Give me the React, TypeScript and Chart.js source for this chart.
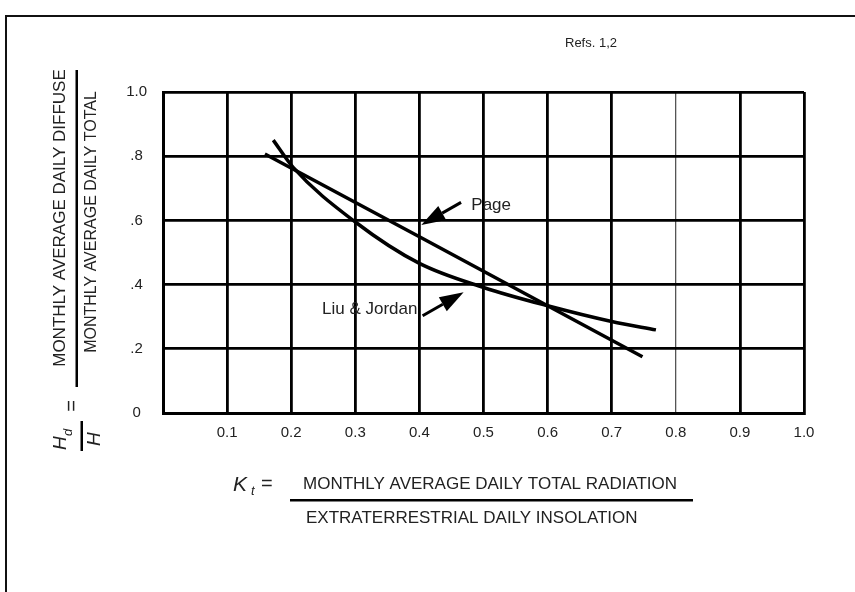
import React, { useEffect, useRef } from 'react';
import { Chart, registerables } from 'chart.js';

Chart.register(...registerables);

// ---- data ----
const xTickLabels = ['', '0.1', '0.2', '0.3', '0.4', '0.5', '0.6', '0.7', '0.8', '0.9', '1.0'];
const yTickLabels = ['0', '.2', '.4', '.6', '.8', '1.0'];
const seriesNames = ['Page', 'Liu & Jordan'];
const pageKt = [0.159, 0.4, 0.6, 0.748];
const pageRatio = [0.807, 0.549, 0.334, 0.175];
const liuKt = [0.172, 0.203, 0.3, 0.4, 0.5, 0.6, 0.7, 0.769];
const liuRatio = [0.85, 0.765, 0.595, 0.466, 0.391, 0.334, 0.285, 0.259];
// annotation arrows, data units: [tailX, tailY, tipX, tipY]
const pageArrow = [0.465, 0.656, 0.403, 0.586];
const liuArrow = [0.405, 0.303, 0.469, 0.376];
// label anchors, data units
const pageLabelAt = [0.481, 0.648];
const liuLabelAt = [0.397, 0.324];

const FONT = '"Liberation Sans", Arial, Helvetica, sans-serif';
const INK = '#222';

function drawArrow(ctx: CanvasRenderingContext2D, x1: number, y1: number, x2: number, y2: number) {
  const ang = Math.atan2(y2 - y1, x2 - x1);
  const headLen = 24;
  const halfW = 8;
  const bx = x2 - headLen * Math.cos(ang);
  const by = y2 - headLen * Math.sin(ang);
  ctx.beginPath();
  ctx.moveTo(x1, y1);
  ctx.lineTo(bx, by);
  ctx.lineWidth = 3;
  ctx.strokeStyle = '#000';
  ctx.stroke();
  ctx.beginPath();
  ctx.moveTo(x2, y2);
  ctx.lineTo(bx + halfW * Math.sin(ang), by - halfW * Math.cos(ang));
  ctx.lineTo(bx - halfW * Math.sin(ang), by + halfW * Math.cos(ang));
  ctx.closePath();
  ctx.fillStyle = '#000';
  ctx.fill();
}

const decor = {
  id: 'decor',
  beforeDraw(chart: any) {
    const ctx: CanvasRenderingContext2D = chart.ctx;
    ctx.save();
    ctx.fillStyle = '#fff';
    ctx.fillRect(0, 0, chart.width, chart.height);
    ctx.strokeStyle = '#111';
    ctx.lineWidth = 2;
    ctx.strokeRect(6, 16, chart.width + 40, chart.height + 40);
    ctx.restore();
  },
  afterDraw(chart: any) {
    const ctx: CanvasRenderingContext2D = chart.ctx;
    const xs = chart.scales.x;
    const ys = chart.scales.y;
    const px = (v: number) => xs.getPixelForValue(v);
    const py = (v: number) => ys.getPixelForValue(v);
    ctx.save();

    // arrows
    drawArrow(ctx, px(pageArrow[0]), py(pageArrow[1]), px(pageArrow[2]), py(pageArrow[3]));
    drawArrow(ctx, px(liuArrow[0]), py(liuArrow[1]), px(liuArrow[2]), py(liuArrow[3]));

    // curve labels
    ctx.fillStyle = INK;
    ctx.font = `17px ${FONT}`;
    ctx.textBaseline = 'middle';
    ctx.textAlign = 'left';
    ctx.fillText(seriesNames[0], px(pageLabelAt[0]), py(pageLabelAt[1]));
    ctx.textAlign = 'right';
    ctx.fillText(seriesNames[1], px(liuLabelAt[0]), py(liuLabelAt[1]));

    // Refs
    ctx.textAlign = 'left';
    ctx.font = `13px ${FONT}`;
    ctx.fillText('Refs. 1,2', 565, 43);

    // x axis title: K_t = fraction
    ctx.font = `italic 21px ${FONT}`;
    ctx.textBaseline = 'alphabetic';
    ctx.fillText('K', 233, 491);
    ctx.font = `italic 13px ${FONT}`;
    ctx.fillText('t', 251, 495);
    ctx.font = `20px ${FONT}`;
    ctx.fillText('=', 261, 490);
    ctx.fillStyle = '#000';
    ctx.fillRect(290, 499, 403, 2.5);
    ctx.fillStyle = INK;
    ctx.font = `17px ${FONT}`;
    ctx.textBaseline = 'middle';
    ctx.fillText('MONTHLY AVERAGE DAILY TOTAL RADIATION', 303, 484);
    ctx.fillText('EXTRATERRESTRIAL DAILY INSOLATION', 306, 518);

    // y axis title (rotated)
    ctx.save();
    ctx.rotate(-Math.PI / 2);
    // in rotated frame: (tx, ty) = (-screenY, screenX)
    ctx.textAlign = 'center';
    ctx.textBaseline = 'middle';
    ctx.font = `17px ${FONT}`;
    ctx.fillText('MONTHLY AVERAGE DAILY DIFFUSE', -218, 60);
    ctx.font = `16px ${FONT}`;
    ctx.fillText('MONTHLY AVERAGE DAILY TOTAL', -222, 92);
    ctx.fillStyle = '#000';
    ctx.fillRect(-387, 75.5, 317, 2.5);
    ctx.fillStyle = INK;
    ctx.font = `20px ${FONT}`;
    ctx.fillText('=', -406, 72);
    // H_d / H
    ctx.textAlign = 'left';
    ctx.textBaseline = 'alphabetic';
    ctx.font = `italic 19px ${FONT}`;
    ctx.fillText('H', -450, 66);
    ctx.font = `italic 13px ${FONT}`;
    ctx.fillText('d', -436, 72);
    ctx.fillStyle = '#000';
    ctx.fillRect(-451, 80.5, 30, 2.5);
    ctx.fillStyle = INK;
    ctx.font = `italic 19px ${FONT}`;
    ctx.textBaseline = 'top';
    ctx.fillText('H', -446, 85);
    ctx.restore();

    ctx.restore();
  },
};

export default function App() {
  const ref = useRef<HTMLCanvasElement>(null);
  useEffect(() => {
    if (!ref.current) return;
    const chart = new Chart(ref.current, {
      type: 'scatter',
      data: {
        datasets: [
          {
            label: seriesNames[0],
            data: pageKt.map((x, i) => ({ x, y: pageRatio[i] })),
            showLine: true,
            borderColor: '#000',
            borderWidth: 3.5,
            pointRadius: 0,
            tension: 0,
          },
          {
            label: seriesNames[1],
            data: liuKt.map((x, i) => ({ x, y: liuRatio[i] })),
            showLine: true,
            borderColor: '#000',
            borderWidth: 3.5,
            pointRadius: 0,
            cubicInterpolationMode: 'monotone',
          },
        ],
      },
      options: {
        responsive: false,
        devicePixelRatio: 1,
        animation: false,
        events: [],
        layout: { padding: { left: 0, top: 92, right: 51, bottom: 139 } },
        plugins: { legend: { display: false }, tooltip: { enabled: false }, title: { display: false } },
        scales: {
          x: {
            type: 'linear',
            min: 0,
            max: 1,
            ticks: {
              stepSize: 0.1,
              autoSkip: false,
              maxRotation: 0,
              padding: 11,
              color: INK,
              font: { family: FONT, size: 15 },
              callback: (_v: any, i: number) => xTickLabels[i],
            },
            grid: {
              drawTicks: false,
              color: (c: any) => (Math.abs(c.tick.value - 0.8) < 1e-6 ? '#555' : '#000'),
              lineWidth: (c: any) => (Math.abs(c.tick.value - 0.8) < 1e-6 ? 1.3 : 2.8),
            },
            border: { color: '#000', width: 3 },
            afterFit: (s: any) => {
              s.height = 40;
              s.paddingLeft = 0;
              s.paddingRight = 0;
            },
          },
          y: {
            type: 'linear',
            min: 0,
            max: 1,
            ticks: {
              stepSize: 0.2,
              crossAlign: 'center',
              padding: 16,
              color: INK,
              font: { family: FONT, size: 15 },
              callback: (_v: any, i: number) => yTickLabels[i],
            },
            grid: { drawTicks: false, color: '#000', lineWidth: 2.8 },
            border: { color: '#000', width: 3 },
            afterFit: (s: any) => {
              s.width = 163;
              s.paddingTop = 0;
              s.paddingBottom = 0;
            },
          },
        },
      },
      plugins: [decor],
    } as any);
    return () => chart.destroy();
  }, []);
  return (
    <div style={{ position: 'absolute', left: 0, top: 0, width: 855, height: 592, background: '#fff' }}>
      <canvas ref={ref} width={855} height={592} style={{ display: 'block' }} />
    </div>
  );
}
